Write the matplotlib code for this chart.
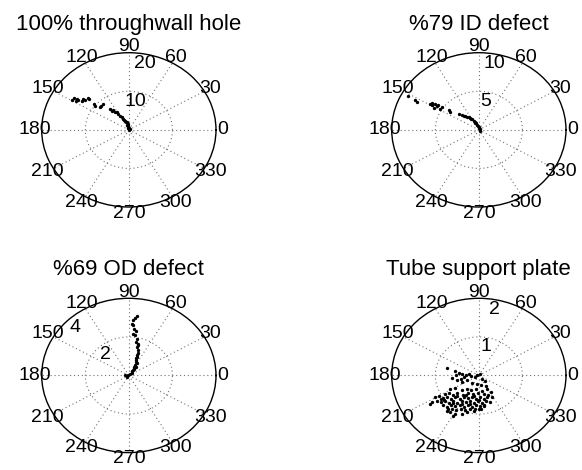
import numpy as np
import matplotlib
matplotlib.use("Agg")
import matplotlib.pyplot as plt

plt.rcParams["font.family"] = ["Liberation Sans", "DejaVu Sans"]

titles = ["100% throughwall hole", "%79 ID defect", "%69 OD defect", "Tube support plate"]
rmax = [20, 10, 4, 2]
ring_vals = [[10, 20], [5, 10], [2, 4], [1, 2]]
ring_lab_ang = [78, 78, 135, 78]
spokes = np.arange(0, 360, 30)

thw_re = [-12.94, -12.64, -11.89, -11.66, -12.18, -10.51, -10.12, -10.64, -9.36, -9.13,
          -8.05, -7.82, -6.67, -6.28, -5.91, -4.37, -3.98, -3.61, -3.22, -2.83,
          -2.46, -2.07, -1.68, -1.31, -1.03, -0.92, -0.69, -0.53, -0.39, -0.28,
          -0.16, -0.11, 0.07, 0.0, -0.2, 0.1, 0.15, -0.05]
thw_im = [7.61, 8.13, 8.05, 7.61, 7.35, 8.05, 7.61, 7.35, 8.21, 7.87,
          6.75, 6.31, 5.87, 6.31, 6.75, 5.45, 5.01, 5.27, 4.75, 4.57,
          4.16, 3.71, 3.27, 2.86, 2.55, 2.42, 2.16, 1.97, 1.30, 1.64,
          0.68, 0.99, 0.26, 0.0, 0.45, 0.5, 0.1, 0.2]

id_re = [-8.08, -7.31, -7.12, -5.58, -5.40, -5.01, -4.83, -4.63, -5.20, -4.44,
         -4.25, -5.32, -3.48, -3.29, -2.33, -1.99, -1.76, -1.38, -1.18, -0.99,
         -0.78, -0.61, -0.47, -0.34, -0.23, -0.11, -0.03, 0.05, 0.10, 0.16,
         -1.55, -0.88, -0.40]
id_im = [4.33, 3.81, 3.59, 3.38, 3.46, 3.29, 3.03, 3.16, 2.86, 2.73,
         2.94, 3.22, 2.51, 2.29, 1.99, 1.92, 1.86, 1.73, 1.66, 1.56,
         1.38, 1.21, 1.04, 0.86, 0.69, 0.56, 0.39, 0.26, 0.10, -0.09,
         1.80, 1.47, 0.95]

od_re = [0.354, 0.276, 0.198, 0.152, 0.198, 0.244, 0.308, 0.198, 0.276, 0.354,
         0.308, 0.400, 0.354, 0.428, 0.400, 0.354, 0.308, 0.276, 0.198, 0.124,
         0.046, -0.032, -0.106, -0.160, -0.090, 0.230, 0.320, 0.414, 0.138, 0.253,
         0.320, 0.368, 0.38, 0.33]
od_im = [3.065, 2.997, 2.894, 2.686, 2.597, 2.426, 2.301, 2.166, 2.078, 1.906,
         1.730, 1.647, 1.470, 1.335, 1.158, 0.951, 0.779, 0.519, 0.296, 0.119,
         0.052, 0.0, -0.026, 0.026, -0.078, 0.415, 0.675, 1.557, 0.208, 0.311,
         0.440, 0.623, 1.05, 0.88]

tsp_re = [-0.727, -0.536, -0.460, -0.513, -0.382, -0.306, -0.230, -0.191, -0.099, -0.037,
          0.023, 0.078, 0.131, -0.497, -0.382, -0.267, -0.152, -0.037, 0.039, 0.154,
          0.193, -0.605, -0.421, -0.352,
          -0.920, -0.996, -1.072, -1.111, -0.957, -0.858,
          -0.727, -0.651, -0.536, -0.382, -0.267, -0.115, 0.0, 0.115, 0.246, 0.308,
          0.269, -0.582,
          -0.651, -0.536, -0.398, -0.283, -0.191, -0.076, 0.062,
          -0.766, -0.674, -0.582, -0.490, -0.375, -0.260, -0.145, -0.030, 0.108, 0.200,
          -0.812, -0.720, -0.628, -0.536, -0.444, -0.352, -0.260, -0.168, -0.076, 0.016,
          0.108, 0.177,
          -0.858, -0.766, -0.674, -0.582, -0.490, -0.398, -0.306, -0.214, -0.122, -0.030,
          0.062, 0.154,
          -0.812, -0.720, -0.628, -0.536, -0.444, -0.352, -0.260, -0.168, -0.076, 0.016,
          0.108,
          -0.697, -0.605, -0.513, -0.421, -0.329, -0.214, -0.099, 0.039,
          -0.490, -0.306, -0.122, -0.398, -0.214, -0.582, -0.007, -0.789]
tsp_im = [0.190, 0.104, 0.070, 0.0, 0.044, 0.0, 0.044, -0.018, -0.044, 0.0,
          0.044, -0.086, -0.156, -0.130, -0.174, -0.130, -0.190, -0.216, -0.260, -0.278,
          -0.346, -0.078, -0.091, -0.052,
          -0.520, -0.564, -0.694, -0.736, -0.650, -0.598,
          -0.910, -0.954, -0.996, -0.996, -0.936, -0.910, -0.866, -0.780, -0.694, -0.564,
          -0.434, -1.040,
          -0.364, -0.338, -0.390, -0.351, -0.390, -0.364, -0.403,
          -0.468, -0.442, -0.494, -0.455, -0.494, -0.442, -0.481, -0.442, -0.468, -0.494,
          -0.572, -0.546, -0.598, -0.559, -0.598, -0.546, -0.585, -0.546, -0.598, -0.559,
          -0.598, -0.546,
          -0.676, -0.650, -0.702, -0.663, -0.702, -0.650, -0.689, -0.650, -0.702, -0.663,
          -0.702, -0.650,
          -0.767, -0.806, -0.754, -0.793, -0.754, -0.806, -0.767, -0.806, -0.754, -0.793,
          -0.754,
          -0.871, -0.858, -0.884, -0.858, -0.884, -0.858, -0.871, -0.858,
          -0.520, -0.507, -0.533, -0.728, -0.741, -0.715, -0.624, -0.624]

series = [(thw_re, thw_im), (id_re, id_im), (od_re, od_im), (tsp_re, tsp_im)]

W, H = 582, 470
fig = plt.figure(figsize=(W / 100, H / 100), dpi=100)
# ellipse boxes in pixels: left, top
boxes = [(41.7, 52.7), (391.7, 52.7), (41.7, 298.3), (391.7, 298.3)]
bw, bh = 174.3, 154.3

for k in range(4):
    x0, y0 = boxes[k]
    ax = fig.add_axes([x0 / W, (H - y0 - bh) / H, bw / W, bh / H], projection="polar")
    ax.set_aspect("auto")
    rm = rmax[k]
    z = np.array(series[k][0]) + 1j * np.array(series[k][1])
    ax.plot(np.angle(z), np.abs(z), "k.", markersize=2.8, zorder=3)
    ax.set_ylim(0, rm)
    ax.set_yticks(ring_vals[k][:-1])
    ax.set_yticklabels([])
    ax.set_xticks(np.deg2rad(spokes))
    ax.set_xticklabels([])
    ax.tick_params(length=0)
    ax.grid(True, color="0.45", linestyle=(0, (1, 2.5)), linewidth=0.8)
    ax.spines["polar"].set_color("black")
    ax.spines["polar"].set_linewidth(1.0)
    for a in spokes:
        ax.text(np.deg2rad(a), 1.08 * rm, str(a), ha="center", va="center",
                fontsize=14, clip_on=False)
    for rv in ring_vals[k]:
        ax.text(np.deg2rad(ring_lab_ang[k]), rv - 0.12 * rm, str(rv), ha="center",
                va="center", fontsize=14)
    ax.set_title(titles[k], fontsize=16, pad=16.5)

fig.savefig("out.png", dpi=100)
